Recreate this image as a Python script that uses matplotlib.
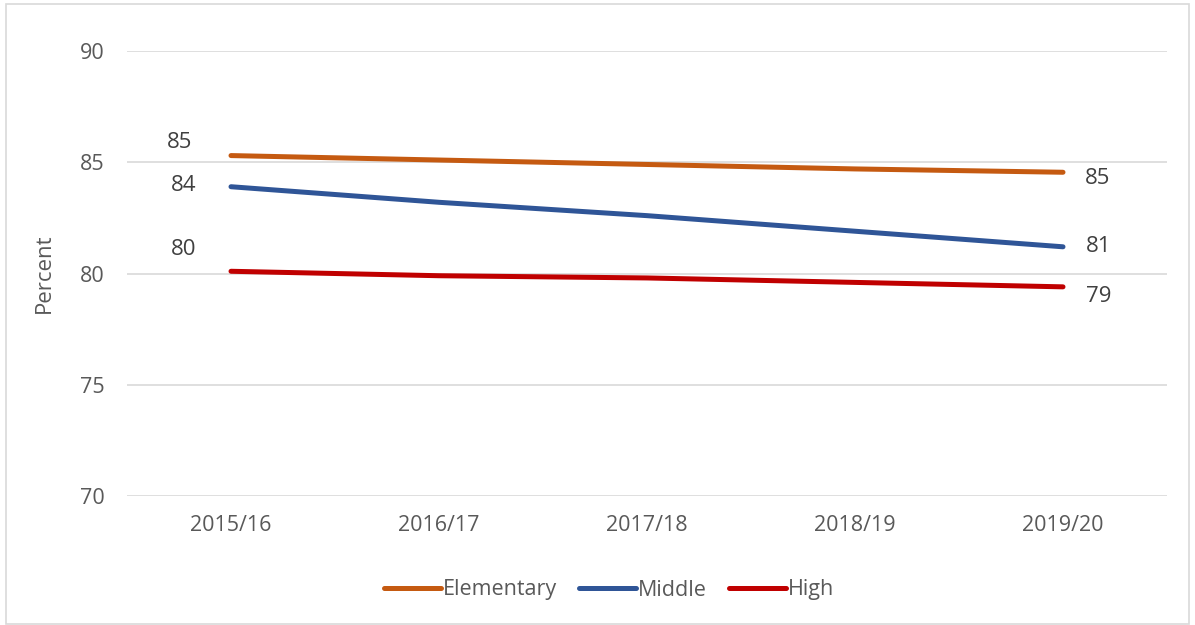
import matplotlib
matplotlib.use("Agg")
import matplotlib.pyplot as plt
from matplotlib.patches import Rectangle

plt.rcParams['font.family'] = ['Open Sans', 'DejaVu Sans']

# data
years = ["2015/16", "2016/17", "2017/18", "2018/19", "2019/20"]
elementary = [85.3, 85.1, 84.9, 84.7, 84.55]
middle = [83.9, 83.2, 82.6, 81.9, 81.2]
high = [80.1, 79.9, 79.8, 79.6, 79.4]

series = [
    ("Elementary", elementary, "#C55A11"),
    ("Middle", middle, "#2F5597"),
    ("High", high, "#C00000"),
]

# label offsets (pixels) for first / last point
start_off = [(-51, 13), (-47, 1), (-47, 22)]
end_off = [(35, -6), (36, 0), (36, -10)]

grey = "#595959"


def lab(v):
    return str(int(v + 0.5))


fig = plt.figure(figsize=(11.95, 6.25), dpi=100)
ax = fig.add_axes([127 / 1195, 1 - 496 / 625, 1040 / 1195, 445 / 625])

x = list(range(len(years)))
for i, (name, vals, col) in enumerate(series):
    ax.plot(x, vals, color=col, linewidth=3.6, solid_capstyle="round", label=name)
    ax.annotate(lab(vals[0]), (x[0], vals[0]), xytext=start_off[i],
                textcoords="offset pixels", ha="center", va="center",
                fontsize=16, color="#404040")
    ax.annotate(lab(vals[-1]), (x[-1], vals[-1]), xytext=end_off[i],
                textcoords="offset pixels", ha="center", va="center",
                fontsize=16, color="#404040")

ax.set_ylim(70, 90)
ax.set_yticks([70, 75, 80, 85, 90])
ax.set_xlim(-0.5, len(years) - 0.5)
ax.set_xticks(x)
ax.set_xticklabels(years)
ax.grid(axis="y", color="#d9d9d9", linewidth=1.2)
ax.set_axisbelow(True)
for s in ax.spines.values():
    s.set_visible(False)
ax.tick_params(length=0, labelsize=15.5, labelcolor=grey)
ax.tick_params(axis="y", pad=16)
ax.tick_params(axis="x", pad=14)
ax.set_ylabel("Percent", fontsize=16, color=grey, labelpad=18)

fig.legend(loc="center", bbox_to_anchor=(609 / 1195, 1 - 590 / 625), ncol=3,
           frameon=False, fontsize=15.5, labelcolor=grey, handlelength=2.65,
           columnspacing=1.05, handletextpad=0.08)

fig.patches.append(Rectangle((6 / 1195, 0.002), 1 - 12 / 1195, 0.992,
                             transform=fig.transFigure, fill=False,
                             edgecolor="#d9d9d9", linewidth=1.2))

fig.savefig("out.png", dpi=100)
